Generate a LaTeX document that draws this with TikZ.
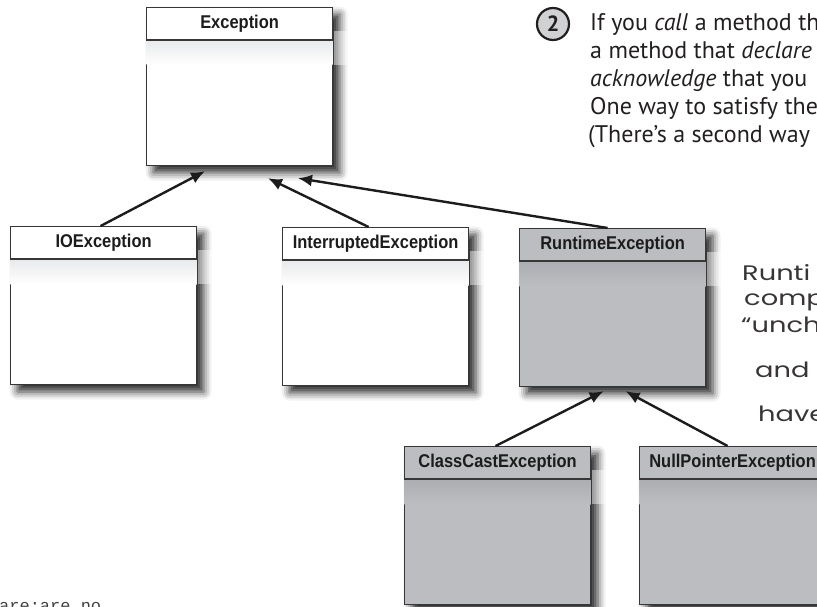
\documentclass[tikz,border=0pt]{standalone}
\usepackage{fontspec}
\usetikzlibrary{arrows.meta,shadows.blur}
\newfontfamily\boxfont[FakeStretch=0.89]{Liberation Sans}
\newfontfamily\bodyfont{PT Sans}
\newfontfamily\handfont[FakeStretch=1.3]{Poppins}
\newfontfamily\typefont{Liberation Mono}
\definecolor{boxgray}{RGB}{188,189,192}
\definecolor{bandgray}{RGB}{172,173,176}
\definecolor{bandwhite}{RGB}{232,233,234}
\definecolor{edge}{RGB}{55,55,55}
\definecolor{ink}{RGB}{28,28,28}
\definecolor{txt}{RGB}{35,31,32}
\definecolor{numfill}{RGB}{208,209,211}
\tikzset{
  umlbox/.style={draw=edge, line width=1.2pt, minimum width=186pt, minimum height=158pt,
    inner sep=0pt, anchor=north west,
    blur shadow={shadow xshift=7pt, shadow yshift=-7pt, shadow blur radius=8pt, shadow opacity=85}},
  boxtitle/.style={font=\boxfont\bfseries\fontsize{18.5}{20}\selectfont, text=ink, inner sep=0pt},
  inherit/.style={draw=ink, line width=2.4pt, -{Latex[length=14pt,width=12pt]}},
  bodytext/.style={font=\bodyfont\fontsize{24}{28}\selectfont, text=txt, anchor=base west, inner sep=0pt},
  handtext/.style={font=\handfont\fontsize{21}{24}\selectfont, text=txt!90, anchor=west, inner sep=0pt},
}
\begin{document}
\begin{tikzpicture}[x=1pt,y=-1pt]
\useasboundingbox (0,0) rectangle (817,607);
\clip (0,0) rectangle (817,607);
\foreach \n/\x/\y/\f/\bt/\t in {
  ex/146/7/white/bandwhite/Exception,
  io/10/226/white/bandwhite/IOException,
  ie/282/227/white/bandwhite/InterruptedException,
  rt/519/228/boxgray/bandgray/RuntimeException,
  cc/404/446/boxgray/bandgray/ClassCastException,
  np/639/446/boxgray/bandgray/NullPointerException}{
  \node[umlbox, fill=\f] (\n) at (\x,\y) {};
  \shade[top color=\bt, bottom color=\f] ([shift={(0.6pt,-33pt)}]\n.north west) rectangle ([shift={(-0.6pt,-58pt)}]\n.north east);
  \fill[white, opacity=0.45] ([shift={(0.6pt,-24pt)}]\n.north east) rectangle ([shift={(22pt,-58pt)}]\n.north east);
  \draw[edge, line width=1.3pt] ([yshift=-33pt]\n.north west) -- ([yshift=-33pt]\n.north east);
  \node[boxtitle] (\n-title) at ([yshift=-16.5pt]\n.north) {\t};
}
\draw[inherit] ([xshift=-3pt]io.north) -- ([shift={(59pt,-5pt)}]ex.south west);
\draw[inherit] ([xshift=-7pt]ie.north) -- ([shift={(122pt,-12pt)}]ex.south west);
\draw[inherit] ([xshift=-5pt]rt.north) -- ([shift={(152pt,-12pt)}]ex.south west);
\draw[inherit] ([xshift=-2pt]cc.north) -- ([shift={(-9pt,-4pt)}]rt.south);
\draw[inherit] ([xshift=-5pt]np.north) -- ([shift={(13pt,-4pt)}]rt.south);
\node[circle, draw=txt, fill=numfill, line width=2.2pt, minimum size=32pt, inner sep=0pt,
  font=\bodyfont\bfseries\fontsize{22}{22}\selectfont, text=txt] (num) at (553,24) {2};
\node[bodytext] (l1) at (590,31) {If you \textit{call} a method th};
\node[bodytext] (l2) at (590,59) {a method that \textit{declare}};
\node[bodytext] (l3) at (590,87) {\textit{acknowledge} that you};
\node[bodytext] (l4) at (590,115) {One way to satisfy the};
\node[bodytext] (l5) at (588,143) {(There’s a second way};
\node[handtext] (h1) at (742,273) {Runti};
\node[handtext] (h2) at (744,300) {compi};
\node[handtext] (h3) at (741,325) {“unch};
\node[handtext] (h4) at (755,370) {and};
\node[handtext] (h5) at (758,414) {have};
\node[anchor=base west, inner sep=0pt, font=\typefont\fontsize{17}{17}\selectfont, text=txt!85] (foot) at (-1,611) {are:are no};
\end{tikzpicture}
\end{document}
